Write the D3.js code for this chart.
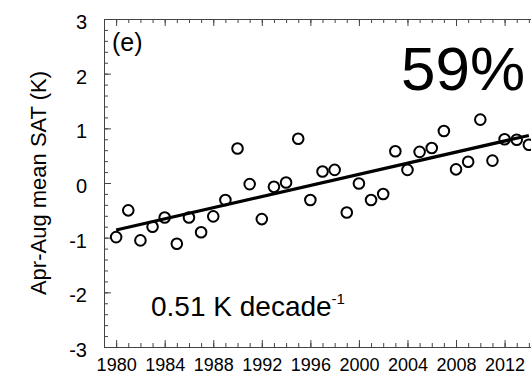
<!DOCTYPE html>
<html>
  <head>
    <meta charset="utf-8">
    <title>Apr-Aug mean SAT</title>
    <script src="https://cdnjs.cloudflare.com/ajax/libs/d3/7.8.5/d3.min.js"></script>
    <style>
      body { margin: 0; background: #fff; }
      svg { display: block; overflow: hidden; }
      text { font-family: "Liberation Sans", Arial, sans-serif; fill: #000; }
    </style>
  </head>
  <body>
    <script>

      var outerWidth = 531;
      var outerHeight = 377;
      var margin = { left: 104, top: 19, right: -10, bottom: 30 };

      // data
      var years = [1980, 1981, 1982, 1983, 1984, 1985, 1986, 1987, 1988, 1989,
                   1990, 1991, 1992, 1993, 1994, 1995, 1996, 1997, 1998, 1999,
                   2000, 2001, 2002, 2003, 2004, 2005, 2006, 2007, 2008, 2009,
                   2010, 2011, 2012, 2013, 2014];
      var satValues = [-0.99, -0.50, -1.05, -0.80, -0.63, -1.11, -0.63, -0.90, -0.61, -0.31,
                        0.63, -0.02, -0.66, -0.07,  0.01,  0.81, -0.31,  0.21,  0.24, -0.54,
                       -0.01, -0.31, -0.20,  0.58,  0.24,  0.57,  0.64,  0.95,  0.25,  0.39,
                        1.16,  0.41,  0.80,  0.79,  0.70];
      var trendYears = [1980, 2014];
      var trendValues = [-0.86, 0.87];

      var xTickLabels = [1980, 1984, 1988, 1992, 1996, 2000, 2004, 2008, 2012];
      var yTickLabels = [-3, -2, -1, 0, 1, 2, 3];

      var innerWidth  = outerWidth  - margin.left - margin.right;
      var innerHeight = outerHeight - margin.top  - margin.bottom;

      var svg = d3.select("body").append("svg")
        .attr("width",  outerWidth)
        .attr("height", outerHeight);
      var g = svg.append("g")
        .attr("transform", "translate(" + margin.left + "," + margin.top + ")");

      var xScale = d3.scaleLinear().domain([1979, 2015]).range([0, innerWidth]);
      var yScale = d3.scaleLinear().domain([-3, 3]).range([innerHeight, 0]);

      // minor ticks (every year / every 0.2 K), only those inside the window
      var minorYears = d3.range(1979, 2015);
      var minorY = d3.range(-3, 3.01, 0.2);

      function styleAxis(sel) {
        sel.select(".domain").remove();
        sel.selectAll(".tick line").attr("stroke", "#444").attr("stroke-width", 1);
      }
      function noLabels(sel) {
        sel.selectAll(".tick text").remove();
      }

      // bottom
      g.append("g").attr("transform", "translate(0," + innerHeight + ")")
        .call(d3.axisBottom(xScale).tickValues(minorYears).tickSize(-4))
        .call(styleAxis).call(noLabels);
      g.append("g").attr("transform", "translate(0," + innerHeight + ")")
        .call(d3.axisBottom(xScale).tickValues(xTickLabels).tickSize(-7).tickPadding(12)
          .tickFormat(function (d) { return String(d); }))
        .call(styleAxis)
        .selectAll("text").attr("font-size", 18).attr("dy", "0.66em");

      // top
      g.append("g")
        .call(d3.axisTop(xScale).tickValues(minorYears).tickSize(-4))
        .call(styleAxis).call(noLabels);
      g.append("g")
        .call(d3.axisTop(xScale).tickValues(xTickLabels).tickSize(-7))
        .call(styleAxis).call(noLabels);

      // left
      g.append("g")
        .call(d3.axisLeft(yScale).tickValues(minorY).tickSize(-4))
        .call(styleAxis).call(noLabels);
      g.append("g")
        .call(d3.axisLeft(yScale).tickValues(yTickLabels).tickSize(-7).tickPadding(17)
          .tickFormat(function (d) { return String(d); }))
        .call(styleAxis)
        .selectAll("text").attr("font-size", 20).attr("dy", "0.48em");

      // frame
      g.append("rect")
        .attr("x", 0.5).attr("y", 0.5)
        .attr("width", xScale(2015) - 0.5).attr("height", innerHeight)
        .attr("fill", "none")
        .attr("stroke", "#444")
        .attr("stroke-width", 1);

      // trend line
      var line = d3.line()
        .x(function (d, i) { return xScale(trendYears[i]); })
        .y(function (d) { return yScale(d); });
      g.append("path")
        .datum(trendValues)
        .attr("d", line)
        .attr("fill", "none")
        .attr("stroke", "#000")
        .attr("stroke-width", 3.2);

      // points
      g.selectAll("circle.pt").data(satValues).enter().append("circle")
        .attr("class", "pt")
        .attr("cx", function (d, i) { return xScale(years[i]); })
        .attr("cy", function (d) { return yScale(d); })
        .attr("r", 5.3)
        .attr("fill", "none")
        .attr("stroke", "#000")
        .attr("stroke-width", 2);

      // annotations
      svg.append("text")
        .attr("x", 112).attr("y", 51)
        .attr("font-size", 25)
        .text("(e)");

      svg.append("text")
        .attr("x", 401).attr("y", 90)
        .attr("font-size", 62)
        .text("59%");

      var rate = svg.append("text")
        .attr("x", 151).attr("y", 316)
        .attr("font-size", 28);
      rate.append("tspan").text("0.51 K decade");
      rate.append("tspan").attr("dy", -12).attr("font-size", 15).text("-1");

      // y axis title
      svg.append("text")
        .attr("transform", "translate(46," + (margin.top + yScale(0)) + ") rotate(-90)")
        .attr("text-anchor", "middle")
        .attr("font-size", 22)
        .text("Apr-Aug mean SAT (K)");

    </script>
  </body>
</html>
